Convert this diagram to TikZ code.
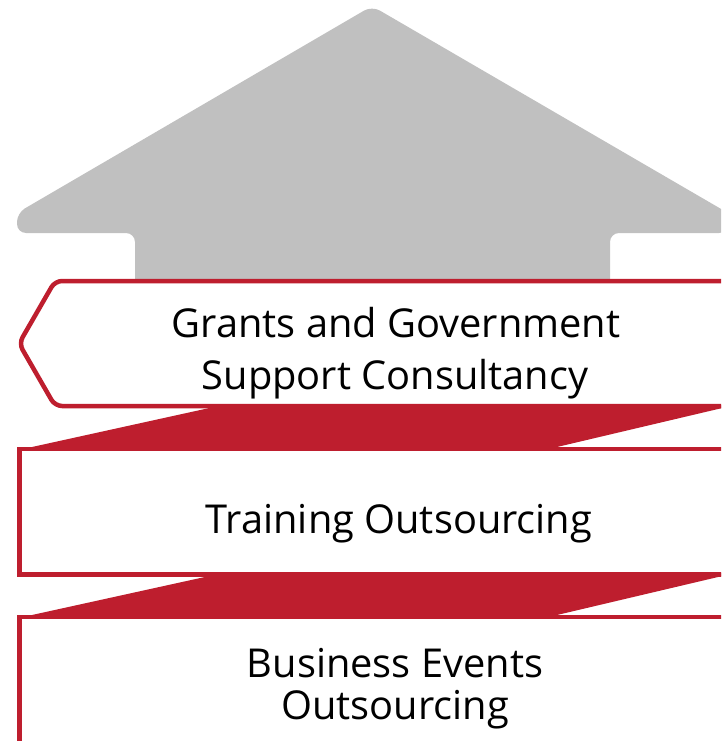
\documentclass[tikz,border=0pt]{standalone}
\usepackage{fontspec}
\setmainfont{Open Sans}
\begin{document}
\begin{tikzpicture}[x=1pt,y=-1pt,
  boxline/.style={draw=bred,line width=4.5pt,fill=white},
  ribbon/.style={fill=bred},
  lbl/.style={font=\fontsize{39.8}{40}\selectfont,inner sep=0pt,anchor=base,text=black}]
\definecolor{bred}{RGB}{190,30,46}
\definecolor{agray}{RGB}{192,192,192}
\useasboundingbox (0,0) rectangle (721,741);
\clip (0,0) rectangle (721,741);
% gray arrow
\fill[agray,rounded corners=9pt] (372,6) -- (728,213) -- (728,233) -- (610,233) -- (610,292) -- (135,292) -- (135,233) -- (17,233) -- (17,213) -- cycle;
% ribbons
\fill[ribbon] (32,447) -- (223,405) -- (735,405) -- (557,447) -- cycle;
\fill[ribbon] (32,615) -- (223,573) -- (735,573) -- (557,615) -- cycle;
% boxes
\draw[boxline,rounded corners=7pt] (55,281) -- (740,281) -- (740,406) -- (55,406) -- (19,343.5) -- cycle;
\draw[boxline] (19.5,449) rectangle (745,574.5);
\draw[boxline] (19.5,617) rectangle (745,770);
% labels
\node[lbl] (g1) at (396,337) {Grants and Government};
\node[lbl] (g2) at (395,389) {Support Consultancy};
\node[lbl] (t1) at (399,533) {Training Outsourcing};
\node[lbl] (b1) at (395,677) {Business Events};
\node[lbl] (b2) at (395,719) {Outsourcing};
\end{tikzpicture}
\end{document}
